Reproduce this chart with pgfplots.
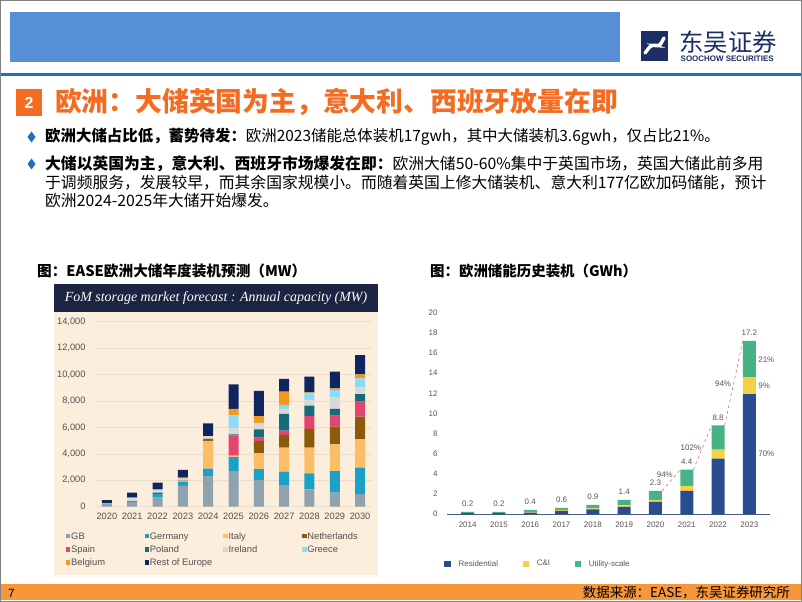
\documentclass[border=0pt]{standalone}
\usepackage{fontspec}
\usepackage{pgfplots}
\usepackage{pgfplotstable}
\pgfplotsset{compat=1.18}
\setmainfont{Liberation Sans}
\newfontfamily\cjk{Noto Sans CJK SC}
\newfontfamily\fomserif{Liberation Serif}

\definecolor{hdrblue}{HTML}{578FD6}
\definecolor{lineblue}{HTML}{1F6FBF}
\definecolor{logonavy}{HTML}{1C2E63}
\definecolor{secorange}{HTML}{F36C21}
\definecolor{bulblue}{HTML}{1F6FC0}
\definecolor{footorange}{HTML}{F8963C}
\definecolor{fomnavy}{HTML}{1B2440}
\definecolor{fomcream}{HTML}{FCEEDD}
\definecolor{fomgrid}{HTML}{EBDDCB}
\definecolor{tickgray}{HTML}{505050}
% left chart series
\definecolor{cGB}{HTML}{8FA3AE}
\definecolor{cDE}{HTML}{1BA1C9}
\definecolor{cIT}{HTML}{FBBD66}
\definecolor{cNL}{HTML}{8C5A0B}
\definecolor{cES}{HTML}{E2456F}
\definecolor{cPL}{HTML}{166B7B}
\definecolor{cIE}{HTML}{D8D8D8}
\definecolor{cGR}{HTML}{8ADDF6}
\definecolor{cBE}{HTML}{F29A1F}
\definecolor{cRE}{HTML}{0E2560}
% right chart series
\definecolor{cRes}{HTML}{2A4D8F}
\definecolor{cCI}{HTML}{F4CF47}
\definecolor{cUtil}{HTML}{46B384}
\definecolor{dashred}{HTML}{E07565}
\definecolor{lblgray}{HTML}{555555}

\pgfplotstableread{
year GB   DE   IT   NL   ES   PL   IE  GR  BE   RE
2020 230  30   0    0    0    0    20  0   0    220
2021 350  80   0    0    0    0    250 0   0    380
2022 680  300  0    0    0    80   200 0   60   500
2023 1570 300  50   50   0    0    150 0   80   580
2024 2330 560  2100 150  0    0    200 0   0    970
2025 2700 1060 100  0    1540 80   450 990 480  1860
2026 2020 830  1190 930  250  630  500 0   510  1910
2027 1640 1010 1820 960  330  1260 350 330 1010 960
2028 1320 1210 1940 1415 985  780  430 500 75   1185
2029 1060 1640 2020 1335 835  505  885 555 125  1260
2030 960  1990 2150 1710 1135 580  510 680 300  1460
}\fomdata

\pgfplotstableread{
year res   ci   util total
2014 0.08  0.02 0.10 0.2
2015 0.08  0.02 0.10 0.2
2016 0.15  0.05 0.20 0.4
2017 0.30  0.10 0.20 0.6
2018 0.45  0.10 0.35 0.9
2019 0.70  0.15 0.55 1.4
2020 1.20  0.20 0.90 2.3
2021 2.30  0.50 1.60 4.4
2022 5.50  0.90 2.40 8.8
2023 11.90 1.70 3.60 17.2
}\eudata

\newcommand\lgd[1]{\makebox[72.5bp][l]{\strut #1}}

\begin{document}
\begin{tikzpicture}[x=1bp,y=-1bp]
\path[use as bounding box] (0,0) rectangle (802,602);
\fill[white] (0,0) rectangle (802,602);

% header
\fill[hdrblue] (10,12) rectangle (620,62);
\fill[lineblue] (0,73) rectangle (802,76.5);
\fill[logonavy] (641,31) rectangle (668,61);
\draw[white, line width=3.4bp, line cap=round, rounded corners=4bp] (645,53) -- (652,44) -- (659,47) -- (664,38);
\node[anchor=west, inner sep=0, font=\cjk\fontsize{24.5}{25}\selectfont, text=logonavy] at (679,42) {东吴证券};
\node[anchor=west, inner sep=0, font=\bfseries\fontsize{8}{8}\selectfont, text=logonavy] at (680.5,58.5) {SOOCHOW SECURITIES};

% section title
\fill[secorange] (16,89) rectangle (42,116);
\node[font=\bfseries\fontsize{16}{16}\selectfont, text=white] at (29,102.5) {2};
\node[anchor=west, inner sep=0, font=\cjk\bfseries\fontsize{26.9}{28}\selectfont, text=secorange] at (55,102) {欧洲：大储英国为主，意大利、西班牙放量在即};

% bullets
\fill[bulblue] (31.5,131.5) -- (35.5,137) -- (31.5,142.5) -- (27.5,137) -- cycle;
\fill[bulblue] (31.5,158.5) -- (35.5,164) -- (31.5,169.5) -- (27.5,164) -- cycle;
\begin{scope}[every node/.style={anchor=west, inner sep=0, font=\cjk\fontsize{15.85}{18}\selectfont, text=black}]
\node[font=\cjk\fontsize{15.5}{18}\selectfont] at (45,137) {\textbf{欧洲大储占比低，蓄势待发：}欧洲2023储能总体装机17gwh，其中大储装机3.6gwh，仅占比21\%。};
\node at (45,164) {\textbf{大储以英国为主，意大利、西班牙市场爆发在即：}欧洲大储50-60\%集中于英国市场，英国大储此前多用};
\node at (45,183) {于调频服务，发展较早，而其余国家规模小。而随着英国上修大储装机、意大利177亿欧加码储能，预计};
\node at (45,201) {欧洲2024-2025年大储开始爆发。};
\end{scope}

% chart titles
\node[anchor=west, inner sep=0, font=\cjk\bfseries\fontsize{14.7}{16}\selectfont] at (37,271) {图：EASE欧洲大储年度装机预测（MW）};
\node[anchor=west, inner sep=0, font=\cjk\bfseries\fontsize{14.5}{16}\selectfont] at (430,271) {图：欧洲储能历史装机（GWh）};

% left chart frame
\fill[fomnavy] (54,284) rectangle (378,312);
\fill[fomcream] (54,312) rectangle (378,575);
\node[text=white, font=\fomserif\itshape\fontsize{14}{16}\selectfont] at (216,298) {FoM storage market forecast : Annual capacity (MW)};

\begin{axis}[
  at={(95bp,-506.7bp)}, anchor=south west,
  width=277bp, height=185bp, scale only axis,
  xmin=2019.53, xmax=2030.47, ymin=0, ymax=14000,
  ybar stacked, bar width=10bp,
  axis line style={draw=none}, major tick length=0,
  ymajorgrids, grid style={color=fomgrid, line width=0.7bp},
  ytick={0,2000,...,14000}, xtick={2020,...,2030},
  scaled y ticks=false,
  /pgf/number format/assume math mode=true,
  xticklabel style={/pgf/number format/1000 sep=, yshift=-2.5bp},
  yticklabel style={/pgf/number format/1000 sep={,}, xshift=-6bp},
  tick label style={font=\fontsize{9.3}{10}\selectfont, text=tickgray},
  legend columns=4,
  legend image code/.code={\fill[#1] (0bp,-2.3bp) rectangle (4.6bp,2.3bp);},
  legend style={draw=none, fill=none, inner sep=0pt, at={(-0.106,-0.128)}, anchor=north west,
    font=\fontsize{9.4}{11}\selectfont, text=tickgray, row sep=2.6bp,
    nodes={inner sep=0.8bp},
    /tikz/every even column/.append style={column sep=0bp}},
  legend cell align=left,
]
\addplot[fill=cGB, draw=none] table[x=year, y=GB] {\fomdata};
\addlegendentry{\lgd{GB}}
\addplot[fill=cDE, draw=none] table[x=year, y=DE] {\fomdata};
\addlegendentry{\lgd{Germany}}
\addplot[fill=cIT, draw=none] table[x=year, y=IT] {\fomdata};
\addlegendentry{\lgd{Italy}}
\addplot[fill=cNL, draw=none] table[x=year, y=NL] {\fomdata};
\addlegendentry{\lgd{Netherlands}}
\addplot[fill=cES, draw=none] table[x=year, y=ES] {\fomdata};
\addlegendentry{\lgd{Spain}}
\addplot[fill=cPL, draw=none] table[x=year, y=PL] {\fomdata};
\addlegendentry{\lgd{Poland}}
\addplot[fill=cIE, draw=none] table[x=year, y=IE] {\fomdata};
\addlegendentry{\lgd{Ireland}}
\addplot[fill=cGR, draw=none] table[x=year, y=GR] {\fomdata};
\addlegendentry{\lgd{Greece}}
\addplot[fill=cBE, draw=none] table[x=year, y=BE] {\fomdata};
\addlegendentry{\lgd{Belgium}}
\addplot[fill=cRE, draw=none] table[x=year, y=RE] {\fomdata};
\addlegendentry{\lgd{Rest of Europe}}
\end{axis}

% right chart
\begin{axis}[
  at={(447bp,-514bp)}, anchor=south west,
  width=323bp, height=201.3bp, scale only axis,
  xmin=2013.34, xmax=2023.66, ymin=0, ymax=20,
  ybar stacked, bar width=13bp,
  axis lines*=left, y axis line style={draw=none},
  x axis line style={color=cRes!70!gray, line width=0.9bp},
  major tick length=0,
  ytick={0,2,...,20}, xtick={2014,...,2023},
  /pgf/number format/assume math mode=true,
  xticklabel style={/pgf/number format/1000 sep=, yshift=-4bp},
  yticklabel style={xshift=-6bp},
  tick label style={font=\fontsize{8}{9}\selectfont, text=lblgray},
  legend columns=3,
  legend image code/.code={\fill[#1] (0bp,-3.3bp) rectangle (6.8bp,3.3bp);},
  legend style={draw=none, fill=none, inner sep=0pt, at={(-0.009,-0.248)}, anchor=west,
    font=\fontsize{8}{9}\selectfont, text=lblgray,
    nodes={inner sep=0.5bp},
    /tikz/every odd column/.append style={column sep=7bp},
    /tikz/every even column/.append style={column sep=24bp}},
]
\addplot[fill=cRes, draw=none] table[x=year, y=res] {\eudata};
\addlegendentry{Residential}
\addplot[fill=cCI, draw=none] table[x=year, y=ci] {\eudata};
\addlegendentry{C\&I}
\addplot[fill=cUtil, draw=none] table[x=year, y=util] {\eudata};
\addlegendentry{Utility-scale}
\end{axis}

\begin{axis}[
  at={(447bp,-514bp)}, anchor=south west,
  width=323bp, height=201.3bp, scale only axis,
  xmin=2013.34, xmax=2023.66, ymin=0, ymax=20,
  hide axis, clip=false,
  /pgf/number format/assume math mode=true,
]
% totals above the bars
\addplot[draw=none, mark=none, point meta=explicit,
  nodes near coords={\pgfmathprintnumber[fixed,precision=1]{\pgfplotspointmeta}},
  every node near coord/.append style={font=\fontsize{8}{9}\selectfont, text=lblgray, anchor=south, yshift=1.5bp}]
  table[x=year, y=total, meta=total] {\eudata};
\addplot[dashred, dashed, line width=0.6bp] coordinates {(2020.21,2.3) (2020.79,4.4)};
\addplot[dashred, dashed, line width=0.6bp] coordinates {(2021.21,4.4) (2021.79,8.8)};
\addplot[dashred, dashed, line width=0.6bp] coordinates {(2022.21,8.8) (2022.79,17.2)};
\begin{scope}[every node/.style={font=\fontsize{8}{9}\selectfont, text=lblgray, inner sep=0}]
\node at (axis cs:2020.30,3.87) {94\%};
\node at (axis cs:2021.13,6.55) {102\%};
\node at (axis cs:2022.16,12.9) {94\%};
\node[anchor=west] at (axis cs:2023.28,15.3) {21\%};
\node[anchor=west] at (axis cs:2023.28,12.7) {9\%};
\node[anchor=west] at (axis cs:2023.28,5.96) {70\%};
\end{scope}
\end{axis}

% footer
\fill[footorange] (0,583.5) rectangle (802,600);
\node[anchor=west, inner sep=0, font=\fontsize{12}{12}\selectfont] at (8,593) {7};
\node[anchor=east, inner sep=0, font=\cjk\fontsize{13.5}{14}\selectfont] at (790,592.5) {数据来源：EASE，东吴证券研究所};

% slide border
\draw[gray, line width=1.2bp] (0.6,0.6) rectangle (801.4,601.4);
\end{tikzpicture}
\end{document}
